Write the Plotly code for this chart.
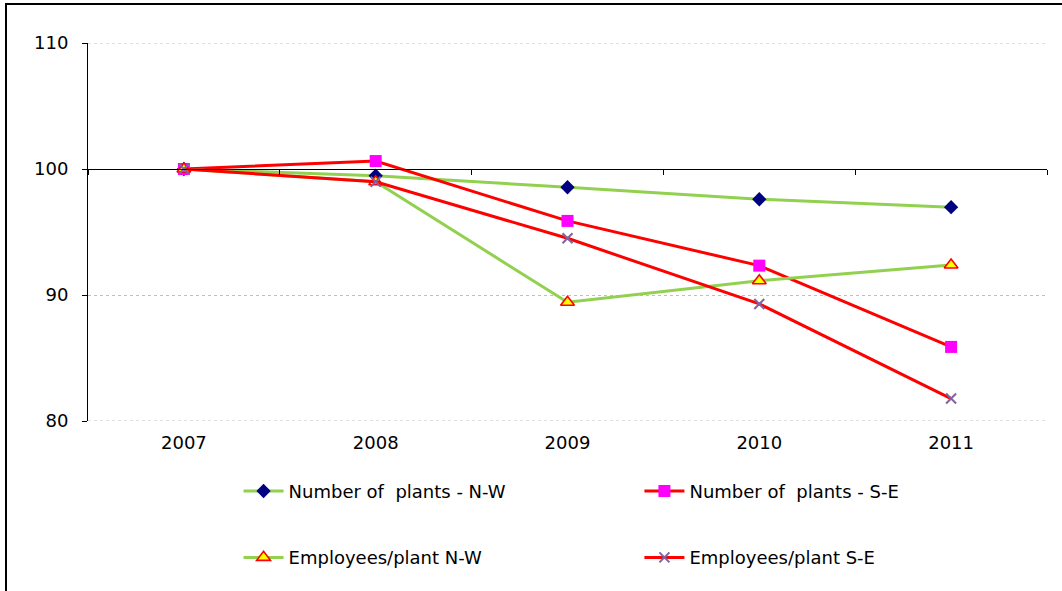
import plotly.graph_objects as go

years = ["2007", "2008", "2009", "2010", "2011"]
plants_nw = [100.0, 99.47, 98.55, 97.6, 96.97]
plants_se = [100.0, 100.63, 95.88, 92.33, 85.88]
emp_nw = [100.0, 98.99, 89.42, 91.13, 92.38]
emp_se = [100.0, 98.99, 94.5, 89.29, 81.78]
y_ticks = [80, 90, 100, 110]

GREEN = "#92D050"
RED = "#FF0000"
GRID = "#BFBFBF"
FONT = "DejaVu Sans"
FS = 18

fig = go.Figure()

series = [
    ("Number of  plants - N-W", plants_nw, GREEN,
     dict(symbol="diamond", size=11, color="#000080", line=dict(width=0)), "legend", "g1"),
    ("Number of  plants - S-E", plants_se, RED,
     dict(symbol="square", size=12, color="#FF00FF", line=dict(width=0)), "legend2", "g3"),
    ("Employees/plant N-W", emp_nw, GREEN,
     dict(symbol="triangle-up", size=12, color="#FFFF00", line=dict(width=1.6, color=RED)), "legend", "g2"),
    ("Employees/plant S-E", emp_se, RED,
     dict(symbol="x-thin", size=10, color="#8064A2", line=dict(width=2, color="#8064A2")), "legend2", "g4"),
]

for name, vals, lc, mk, leg, grp in series:
    fig.add_trace(go.Scatter(
        x=years, y=vals, name=name, mode="lines+markers",
        line=dict(color=lc, width=3), marker=mk,
        legend=leg, legendgroup=grp,
    ))

# Category axis drawn along the 100 baseline, with ticks between categories
fig.add_trace(go.Scatter(
    x=years, y=[None] * len(years), xaxis="x2", yaxis="y",
    showlegend=False, hoverinfo="skip", mode="lines",
))

legend_common = dict(
    orientation="v", yanchor="top", y=-0.137, xanchor="left",
    font=dict(family=FONT, size=FS, color="#000000"),
    bgcolor="rgba(0,0,0,0)", tracegroupgap=40, itemwidth=40,
)

fig.update_layout(
    width=1062, height=591,
    margin=dict(l=88, r=15, t=43, b=170),
    paper_bgcolor="white", plot_bgcolor="white",
    font=dict(family=FONT, size=FS, color="#000000"),
    xaxis=dict(
        type="category", showline=False, showgrid=False, ticks="",
        tickfont=dict(family=FONT, size=FS), ticklabelstandoff=9,
        range=[-0.5, 4.5], zeroline=False,
    ),
    xaxis2=dict(
        type="category", overlaying="x", anchor="free", position=2 / 3,
        showline=True, linecolor="#000000", linewidth=1,
        ticks="outside", tickson="boundaries", ticklen=5, tickcolor="#000000",
        showticklabels=False, showgrid=False, range=[-0.5, 4.5],
        matches="x",
    ),
    yaxis=dict(
        range=[80, 110], tickvals=y_ticks,
        showline=True, linecolor="#000000", linewidth=1,
        ticks="outside", ticklen=5, tickcolor="#000000",
        showgrid=True, gridcolor=GRID, griddash="dot", gridwidth=1,
        zeroline=False, tickfont=dict(family=FONT, size=FS),
        ticklabelstandoff=10,
    ),
    legend=dict(x=0.157, **legend_common),
    legend2=dict(x=0.575, **legend_common),
    showlegend=True,
)

# Gridlines at the range ends, which the axis itself leaves out
for yv in (y_ticks[0], y_ticks[-1]):
    fig.add_shape(
        type="line", xref="paper", yref="y", x0=0, x1=1, y0=yv, y1=yv,
        line=dict(color=GRID, width=1, dash="dot"), layer="below",
    )

# Outer chart frame
fig.add_shape(
    type="rect", xref="paper", yref="paper",
    x0=(6 - 88) / 959, x1=1.2, y0=-1.0, y1=(421 - 4) / 378,
    line=dict(color="#000000", width=2), fillcolor="rgba(0,0,0,0)", layer="below",
)

fig.write_html("out.html")
